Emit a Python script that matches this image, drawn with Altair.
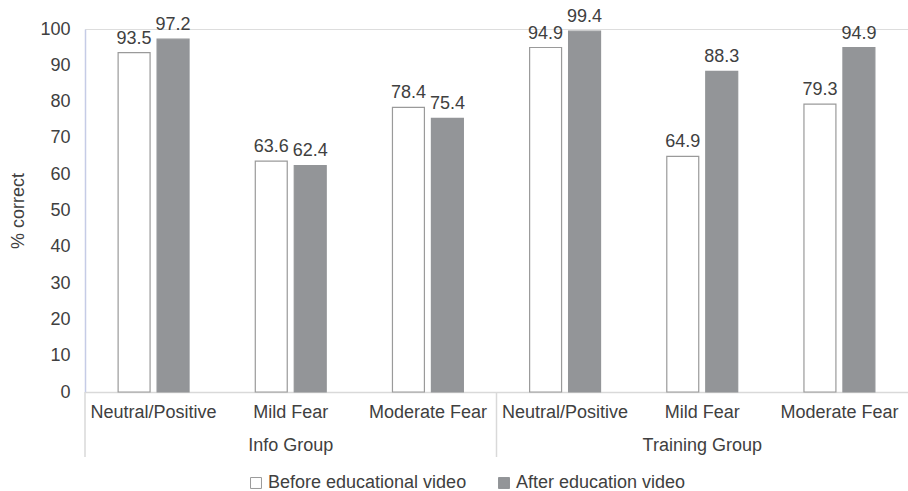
import altair as alt
import pandas as pd

groups = ["Info Group", "Info Group", "Info Group", "Training Group", "Training Group", "Training Group"]
cats = ["Neutral/Positive", "Mild Fear", "Moderate Fear", "Neutral/Positive", "Mild Fear", "Moderate Fear"]
series = ["Before educational video", "After education video"]
before = [93.5, 63.6, 78.4, 94.9, 64.9, 79.3]
after = [97.2, 62.4, 75.4, 99.4, 88.3, 94.9]
y_ticks = [0, 10, 20, 30, 40, 50, 60, 70, 80, 90, 100]

keys = [f"{g}|{c}" for g, c in zip(groups, cats)]
rows = []
for k, g, c, b, a in zip(keys, groups, cats, before, after):
    rows.append({"key": k, "group": g, "cat": c, "series": series[0], "value": b})
    rows.append({"key": k, "group": g, "cat": c, "series": series[1], "value": a})
df = pd.DataFrame(rows)

W, H = 823, 363
FONT = "Liberation Sans"
TXT = "#404040"
FS = 18

x_enc = alt.X("key:N", sort=keys, scale=alt.Scale(domain=keys, paddingInner=0, paddingOuter=0),
              axis=alt.Axis(title=None, labelExpr="split(datum.label, '|')[1]", labelAngle=0,
                            labelFontSize=FS, labelColor=TXT, labelFont=FONT, labelPadding=11,
                            labelLimit=300, labelOverlap=False,
                            ticks=False, domainColor="#d9d9d9", domainWidth=1.5))
xoff = alt.XOffset("series:N", sort=series,
                   scale=alt.Scale(domain=series, paddingInner=0.18, paddingOuter=0.85))
y_enc = alt.Y("value:Q", scale=alt.Scale(domain=[0, 100]),
              axis=alt.Axis(title="% correct", titleFontSize=FS, titleFontWeight="normal",
                            titleColor=TXT, titleFont=FONT, titlePadding=12,
                            values=y_ticks, tickCount=11, labelOverlap=False,
                            labelFontSize=FS, labelColor=TXT,
                            labelFont=FONT, labelPadding=15, ticks=False, grid=False,
                            domainColor="#c5cce6", domainWidth=1.5))

base = alt.Chart(df)

bars = base.mark_bar(strokeWidth=1.2).encode(
    x=x_enc,
    xOffset=xoff,
    y=y_enc,
    fill=alt.Fill("series:N", sort=series,
                  scale=alt.Scale(domain=series, range=["#ffffff", "#939598"]),
                  legend=alt.Legend(title=None, orient="none", legendX=162, legendY=445,
                                    direction="horizontal", symbolType="square", symbolSize=120,
                                    symbolStrokeColor="#939598", symbolStrokeWidth=1,
                                    labelFontSize=FS, labelColor=TXT, labelFont=FONT,
                                    labelLimit=400, columnPadding=28, labelOffset=3)),
    stroke=alt.Stroke("series:N", sort=series,
                      scale=alt.Scale(domain=series, range=["#9a9a9a", "#939598"]), legend=None),
)

labels = base.mark_text(baseline="bottom", dy=-5, fontSize=FS, color=TXT, font=FONT).encode(
    x=x_enc,
    xOffset=xoff,
    y=y_enc,
    text=alt.Text("value:Q", format=".1f"),
)

gdf = pd.DataFrame({"key": [keys[1], keys[4]], "group": [groups[1], groups[4]]})
glabels = alt.Chart(gdf).mark_text(fontSize=FS, color=TXT, font=FONT, baseline="middle").encode(
    x=x_enc,
    y=alt.value(H + 54),
    text="group:N",
)

sdf = pd.DataFrame({"key": [keys[0], keys[3]]})
seps = alt.Chart(sdf).mark_rule(color="#d9d9d9", strokeWidth=1.5).encode(
    x=alt.X("key:N", sort=keys, bandPosition=0),
    y=alt.value(H),
    y2=alt.value(H + 65),
)

chart = alt.layer(bars, labels, glabels, seps).properties(
    width=W, height=H,
    autosize=alt.AutoSizeParams(type="none"),
    padding={"left": 85, "top": 29, "right": 0, "bottom": 491 - 29 - H},
).configure_view(stroke=None).configure(background="white")

chart.save("out.html", embed_options={"renderer": "svg", "actions": False})
